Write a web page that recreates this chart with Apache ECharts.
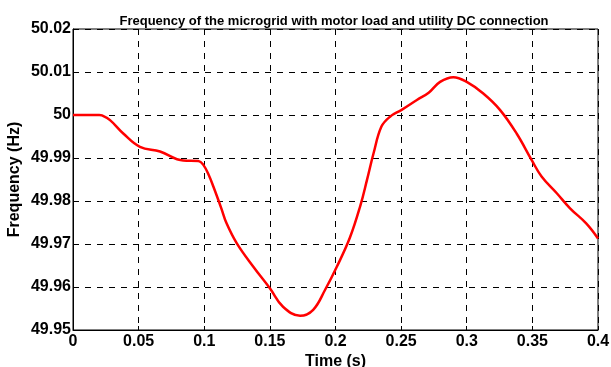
<!DOCTYPE html>
<html><head><meta charset="utf-8">
<script src="https://cdn.jsdelivr.net/npm/echarts@6/dist/echarts.min.js"></script>
<style>html,body{margin:0;padding:0;background:#fff}#c{width:611px;height:367px}</style>
</head><body><div id="c"></div>
<script>
const titleText = 'Frequency of the microgrid with motor load and utility DC connection';
const xName = 'Time (s)';
const yName = 'Frequency (Hz)';
const timeS = [0, 0.01, 0.02, 0.022, 0.0282, 0.0383, 0.051, 0.0663, 0.084, 0.0955, 0.0993, 0.1035, 0.107, 0.113, 0.117, 0.1247, 0.1374, 0.150, 0.160, 0.173, 0.183, 0.192, 0.201, 0.211, 0.219, 0.224, 0.229, 0.235, 0.2415, 0.2504, 0.262, 0.271, 0.2797, 0.2898, 0.300, 0.3126, 0.3253, 0.338, 0.3495, 0.357, 0.3686, 0.3787, 0.391, 0.400];
const freqHz = [50.0, 50.0, 50.0, 49.9999, 49.9988, 49.9957, 49.9926, 49.9915, 49.9894, 49.9893, 49.9884, 49.9860, 49.9833, 49.9783, 49.9748, 49.9702, 49.9647, 49.9597, 49.9554, 49.9533, 49.9547, 49.9593, 49.9647, 49.9715, 49.9790, 49.9849, 49.9911, 49.9973, 49.9996, 50.0012, 50.0035, 50.0052, 50.0077, 50.0088, 50.0077, 50.0050, 50.0012, 49.9957, 49.9895, 49.9857, 49.9818, 49.9783, 49.9748, 49.9713];

const chart = echarts.init(document.getElementById('c'));
const fnt = 'Liberation Sans, Arial, sans-serif';
chart.setOption({
  animation: false,
  title: {text: titleText, left: 329, textAlign: 'center', top: 10,
    textStyle: {fontFamily: fnt, fontWeight: 'bold', fontSize: 13, color: '#000'}},
  grid: {left: 73, right: 13, top: 29, bottom: 37, show: true, borderColor: '#000', borderWidth: 1,
    outerBoundsMode: 'none', containLabel: false},
  xAxis: {type: 'value', min: 0, max: 0.4, interval: 0.05,
    name: xName, nameLocation: 'middle', nameGap: 24, nameMoveOverlap: false,
    nameTextStyle: {fontFamily: fnt, fontWeight: 'bold', fontSize: 16, color: '#000'},
    axisLine: {show: true, lineStyle: {color: '#000', width: 1}},
    axisTick: {show: true, inside: true, length: 4, lineStyle: {color: '#000'}},
    axisLabel: {fontFamily: fnt, fontWeight: 'bold', fontSize: 16, color: '#000', margin: 4,
      formatter: v => String(parseFloat(v.toFixed(2)))},
    splitLine: {show: true, lineStyle: {color: '#000', type: [6, 6], width: 1}}},
  yAxis: {type: 'value', min: 49.95, max: 50.02, interval: 0.01,
    name: yName, nameLocation: 'middle', nameGap: 50, nameRotate: 90, nameMoveOverlap: false,
    nameTextStyle: {fontFamily: fnt, fontWeight: 'bold', fontSize: 16, color: '#000'},
    axisLine: {show: true, lineStyle: {color: '#000', width: 1}},
    axisTick: {show: true, inside: true, length: 4, lineStyle: {color: '#000'}},
    axisLabel: {fontFamily: fnt, fontWeight: 'bold', fontSize: 16, color: '#000', margin: 2,
      formatter: v => String(parseFloat(v.toFixed(2)))},
    splitLine: {show: true, lineStyle: {color: '#000', type: [6, 6], width: 1}}},
  series: [{type: 'line', data: timeS.map((t, i) => [t, freqHz[i]]), smooth: 0.4, showSymbol: false,
    lineStyle: {color: '#ff0000', width: 2.5}}]
});
</script></body></html>
